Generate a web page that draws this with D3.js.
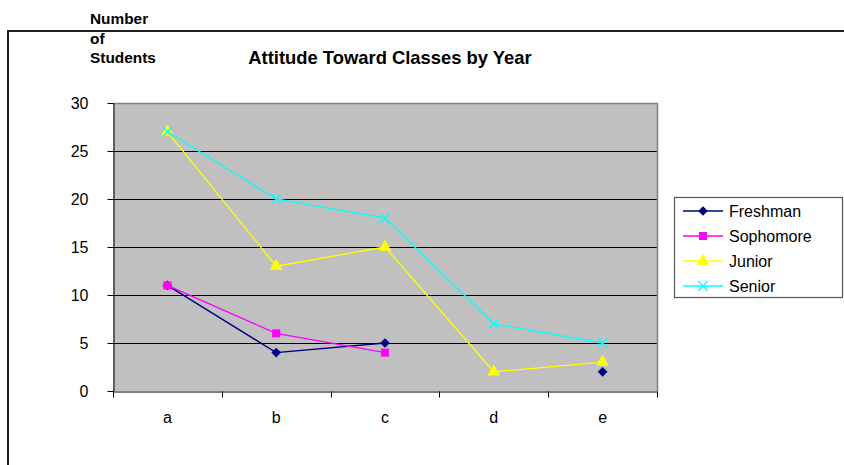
<!DOCTYPE html>
<html>
<head>
<meta charset="utf-8">
<script src="https://cdn.jsdelivr.net/npm/d3@7"></script>
<style>
  html, body { margin: 0; padding: 0; background: #fff; }
  svg { display: block; }
  text { font-family: "Liberation Sans", Arial, sans-serif; fill: #000; }
</style>
</head>
<body>
<svg id="chart" width="844" height="465"></svg>
<script>
// Categories on the x axis
const categories = ["a", "b", "c", "d", "e"];

// Number of students per year group (null = no value)
const freshman  = [11, 4, 5, null, 2];
const sophomore = [11, 6, 4, null, null];
const junior    = [27, 13, 15, 2, 3];
const senior    = [27, 20, 18, 7, 5];

const seriesNames = ["Freshman", "Sophomore", "Junior", "Senior"];
const yTicks = [0, 5, 10, 15, 20, 25, 30];

const series = [
  { name: seriesNames[0], values: freshman,  color: "#000080", symbol: d3.symbolDiamond2, size: 60 },
  { name: seriesNames[1], values: sophomore, color: "#ff00ff", symbol: d3.symbolSquare,   size: 64 },
  { name: seriesNames[2], values: junior,    color: "#ffff00", symbol: d3.symbolTriangle, size: 70 },
  { name: seriesNames[3], values: senior,    color: "#00ffff", symbol: d3.symbolX,        size: 60 }
];

const svg = d3.select("#chart");
const plot = { left: 113, right: 657, top: 103, bottom: 391 };

const x = d3.scaleBand().domain(categories).range([plot.left, plot.right]);
const y = d3.scaleLinear().domain([0, 30]).range([plot.bottom, plot.top]);

// Outer frame
svg.append("rect")
  .attr("x", 8).attr("y", 31).attr("width", 900).attr("height", 500)
  .attr("fill", "none").attr("stroke", "#222").attr("stroke-width", 2);

// Axis title and chart title
const yTitle = svg.append("text")
  .attr("x", 90).attr("y", 24)
  .style("font-size", "15.4px").style("font-weight", "bold");
["Number", "of", "Students"].forEach((t, i) => {
  yTitle.append("tspan").attr("x", 90).attr("y", 24 + i * 19.5).text(t);
});

svg.append("text")
  .attr("x", 390).attr("y", 64)
  .attr("text-anchor", "middle")
  .style("font-size", "18.4px").style("font-weight", "bold")
  .text("Attitude Toward Classes by Year");

// Plot area
svg.append("rect")
  .attr("x", plot.left).attr("y", plot.top)
  .attr("width", plot.right - plot.left).attr("height", plot.bottom - plot.top)
  .attr("fill", "#c0c0c0");

// Gridlines
svg.append("g")
  .selectAll("line")
  .data(yTicks.filter(v => v > 0 && v < 30))
  .join("line")
  .attr("x1", plot.left).attr("x2", plot.right)
  .attr("y1", d => Math.round(y(d)) + 0.5).attr("y2", d => Math.round(y(d)) + 0.5)
  .attr("stroke", "#000").attr("stroke-width", 1);

// Top and right edges of the plot area
svg.append("path")
  .attr("d", `M${plot.left},${plot.top + 0.5}H${plot.right + 0.5}V${plot.bottom}`)
  .attr("fill", "none").attr("stroke", "#808080").attr("stroke-width", 1.5);

// Y axis
const yAxis = d3.axisLeft(y).tickValues(yTicks).tickSize(6).tickPadding(19).tickSizeOuter(0);
const gy = svg.append("g").attr("transform", `translate(${plot.left + 0.5},0)`).call(yAxis);
gy.select(".domain").attr("stroke", "#000");
gy.selectAll(".tick line").attr("stroke", "#000");
gy.selectAll(".tick text")
  .style("font-size", "16px").style("font-family", "'Liberation Sans', Arial, sans-serif")
  .attr("fill", "#000");

// X axis with ticks at category boundaries
const xAxis = d3.axisBottom(x).tickSize(0).tickPadding(20).tickSizeOuter(0);
const gx = svg.append("g").attr("transform", `translate(0,${plot.bottom + 0.5})`).call(xAxis);
gx.select(".domain").attr("stroke", "#000");
gx.selectAll(".tick text")
  .style("font-size", "16px").style("font-family", "'Liberation Sans', Arial, sans-serif")
  .attr("fill", "#000");
const boundaries = categories.map(c => x(c)).concat([x.range()[1]]);
gx.selectAll(".bound")
  .data(boundaries)
  .join("line")
  .attr("class", "bound")
  .attr("x1", d => Math.round(d) + 0.5).attr("x2", d => Math.round(d) + 0.5)
  .attr("y1", 0).attr("y2", 6)
  .attr("stroke", "#000");

// Series lines and markers
const cx = c => x(c) + x.bandwidth() / 2;
const line = d3.line()
  .defined(d => d.v !== null)
  .x(d => cx(d.c))
  .y(d => y(d.v));

series.forEach(s => {
  const pts = categories.map((c, i) => ({ c, v: s.values[i] }));
  svg.append("path")
    .datum(pts)
    .attr("d", line)
    .attr("fill", "none")
    .attr("stroke", s.color)
    .attr("stroke-width", 1.3);
  const sym = d3.symbol().type(s.symbol).size(s.size);
  svg.append("g")
    .selectAll("path")
    .data(pts.filter(d => d.v !== null))
    .join("path")
    .attr("transform", d => `translate(${cx(d.c)},${y(d.v)})`)
    .attr("d", sym)
    .attr("fill", s.symbol === d3.symbolX ? "none" : s.color)
    .attr("stroke", s.color)
    .attr("stroke-width", s.symbol === d3.symbolX ? 1.3 : 0);
});

// Legend
const legend = svg.append("g");
legend.append("rect")
  .attr("x", 674.5).attr("y", 197.5).attr("width", 168).attr("height", 100)
  .attr("fill", "#fff").attr("stroke", "#555").attr("stroke-width", 1.2);

series.forEach((s, i) => {
  const ly = 211 + i * 25;
  legend.append("line")
    .attr("x1", 683).attr("x2", 723).attr("y1", ly).attr("y2", ly)
    .attr("stroke", s.color).attr("stroke-width", 1.3);
  legend.append("path")
    .attr("transform", `translate(703,${ly})`)
    .attr("d", d3.symbol().type(s.symbol).size(s.size))
    .attr("fill", s.symbol === d3.symbolX ? "none" : s.color)
    .attr("stroke", s.color)
    .attr("stroke-width", s.symbol === d3.symbolX ? 1.3 : 0);
  legend.append("text")
    .attr("x", 729).attr("y", ly + 5.8)
    .style("font-size", "16px")
    .text(s.name);
});
</script>
</body>
</html>
